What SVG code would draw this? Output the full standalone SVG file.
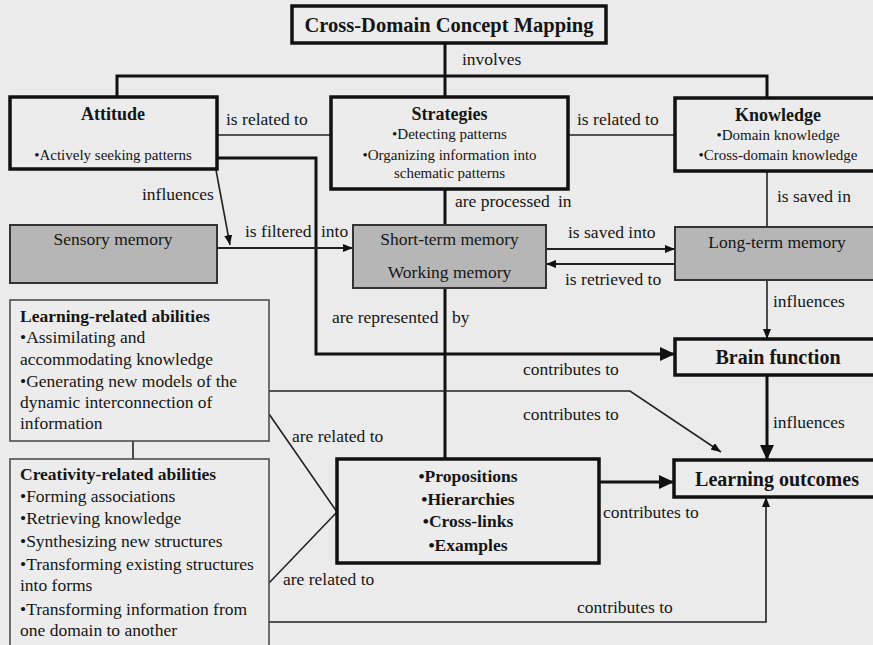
<svg xmlns="http://www.w3.org/2000/svg" width="873" height="645" viewBox="0 0 873 645">
<defs>
<style>
.t{font-family:"Liberation Serif","Times New Roman",serif;fill:#151515}
.lbl{font-size:17.5px}
.hd{font-size:18px;font-weight:bold}
.it{font-size:15px}
.big{font-size:20px;font-weight:bold}
.lt{font-size:17.5px}
.bxk{fill:#ececec;stroke:#111;stroke-width:3.5}
.bxg{fill:#b6b6b6;stroke:#333;stroke-width:2}
.bxt{fill:#ececec;stroke:#444;stroke-width:1.5}
.ck{fill:none;stroke:#111;stroke-width:3}
.cn{fill:none;stroke:#222;stroke-width:1.6}
.cm{fill:none;stroke:#222;stroke-width:2}
</style>
<marker id="ah" viewBox="0 0 10 8" refX="10" refY="4" markerWidth="10" markerHeight="8" markerUnits="userSpaceOnUse" orient="auto"><path d="M0,0 L10,4 L0,8 z" fill="#111"/></marker>
<marker id="ahk" viewBox="0 0 15 14" refX="15" refY="7" markerWidth="15" markerHeight="14" markerUnits="userSpaceOnUse" orient="auto"><path d="M0,0 L15,7 L0,14 z" fill="#111"/></marker>
</defs>
<rect x="0" y="0" width="873" height="645" fill="#ebebeb"/>

<g id="connectors">
<path class="ck" d="M445,43 V97"/>
<path class="ck" d="M117,97 V76 H767 V98"/>
<path class="cn" d="M217,135 H331"/>
<path class="cn" d="M568,135 H675"/>
<path class="ck" d="M217,158 H316 V354 H675" marker-end="url(#ahk)"/>
<path class="ck" d="M445,189 V225"/>
<path class="cn" d="M216,170 L230,245" marker-end="url(#ah)"/>
<path class="cm" d="M217,248 H353" marker-end="url(#ah)"/>
<path class="cn" d="M767,171 V227"/>
<path class="cm" d="M546,249 H675" marker-end="url(#ah)"/>
<path class="cm" d="M675,264 H546" marker-end="url(#ah)"/>
<path class="cn" d="M767,280 V339" marker-end="url(#ah)"/>
<path class="ck" d="M767,375 V460" marker-end="url(#ahk)"/>
<path class="ck" d="M445,288 V459"/>
<path class="cn" d="M269,391 H630 L721,452" marker-end="url(#ah)"/>
<path class="cn" d="M269,414 L337,512 L269,583"/>
<path class="cn" d="M133,441 V459"/>
<path class="ck" d="M599,482 H674" marker-end="url(#ahk)"/>
<path class="cn" d="M269,622 H766 V497" marker-end="url(#ah)"/>
</g>

<g id="labels">
<text class="t lbl" x="462" y="65">involves</text>
<text class="t lbl" x="226" y="125">is related to</text>
<text class="t lbl" x="577" y="125">is related to</text>
<text class="t lbl" x="142" y="200">influences</text>
<text class="t lbl" x="245" y="237">is filtered</text>
<text class="t lbl" x="321" y="237">into</text>
<text class="t lbl" x="455" y="207">are processed</text>
<text class="t lbl" x="558" y="207">in</text>
<text class="t lbl" x="777" y="202">is saved in</text>
<text class="t lbl" x="568" y="238">is saved into</text>
<text class="t lbl" x="565" y="285">is retrieved to</text>
<text class="t lbl" x="773" y="307">influences</text>
<text class="t lbl" x="332" y="323">are represented</text>
<text class="t lbl" x="452" y="323">by</text>
<text class="t lbl" x="523" y="375">contributes to</text>
<text class="t lbl" x="523" y="420">contributes to</text>
<text class="t lbl" x="773" y="428">influences</text>
<text class="t lbl" x="292" y="442">are related to</text>
<text class="t lbl" x="603" y="518">contributes to</text>
<text class="t lbl" x="283" y="585">are related to</text>
<text class="t lbl" x="577" y="613">contributes to</text>
</g>

<g id="title">
<rect class="bxk" x="292" y="6" width="314" height="37"/>
<text class="t" x="449" y="32" text-anchor="middle" font-size="20.5" font-weight="bold">Cross-Domain Concept Mapping</text>
</g>

<g id="attitude">
<rect class="bxk" x="10" y="97" width="207" height="72"/>
<text class="t hd" x="113" y="120" text-anchor="middle">Attitude</text>
<text class="t it" x="113" y="160" text-anchor="middle">•Actively seeking patterns</text>
</g>

<g id="strategies">
<rect class="bxk" x="331" y="97" width="237" height="92"/>
<text class="t hd" x="449.5" y="120" text-anchor="middle">Strategies</text>
<text class="t it" x="449.5" y="139" text-anchor="middle">•Detecting patterns</text>
<text class="t it" x="449.5" y="160" text-anchor="middle">•Organizing information into</text>
<text class="t it" x="449.5" y="178" text-anchor="middle">schematic patterns</text>
</g>

<g id="knowledge">
<rect class="bxk" x="675" y="98" width="210" height="73"/>
<text class="t hd" x="778" y="121" text-anchor="middle">Knowledge</text>
<text class="t it" x="778" y="140" text-anchor="middle">•Domain knowledge</text>
<text class="t it" x="778" y="160" text-anchor="middle">•Cross-domain knowledge</text>
</g>

<g id="sensory">
<rect class="bxg" x="10" y="225" width="207" height="58"/>
<text class="t lt" x="113" y="245" text-anchor="middle">Sensory memory</text>
</g>

<g id="shortterm">
<rect class="bxg" x="353" y="225" width="193" height="63"/>
<text class="t lt" x="449.5" y="245" text-anchor="middle">Short-term memory</text>
<text class="t lt" x="449.5" y="278" text-anchor="middle">Working memory</text>
</g>

<g id="longterm">
<rect class="bxg" x="675" y="227" width="210" height="53"/>
<text class="t lt" x="777" y="248" text-anchor="middle">Long-term memory</text>
</g>

<g id="brain">
<rect class="bxk" x="675" y="339" width="210" height="36"/>
<text class="t big" x="778" y="364" text-anchor="middle">Brain function</text>
</g>

<g id="learningrel">
<rect class="bxt" x="10" y="300" width="259" height="141"/>
<text class="t lt" x="20" y="322" font-weight="bold">Learning-related abilities</text>
<text class="t lt" x="20" y="343">•Assimilating and</text>
<text class="t lt" x="20" y="365">accommodating knowledge</text>
<text class="t lt" x="20" y="387">•Generating new models of the</text>
<text class="t lt" x="20" y="408">dynamic interconnection of</text>
<text class="t lt" x="20" y="429">information</text>
</g>

<g id="creativity">
<rect class="bxt" x="10" y="459" width="259" height="200"/>
<text class="t lt" x="20" y="480" font-weight="bold">Creativity-related abilities</text>
<text class="t lt" x="20" y="502">•Forming associations</text>
<text class="t lt" x="20" y="524">•Retrieving knowledge</text>
<text class="t lt" x="20" y="547">•Synthesizing new structures</text>
<text class="t lt" x="20" y="570">•Transforming existing structures</text>
<text class="t lt" x="20" y="591">into forms</text>
<text class="t lt" x="20" y="615">•Transforming information from</text>
<text class="t lt" x="20" y="636">one domain to another</text>
</g>

<g id="propositions">
<rect class="bxk" x="337" y="459" width="262" height="104"/>
<text class="t lt" x="468" y="482" text-anchor="middle" font-weight="bold">•Propositions</text>
<text class="t lt" x="468" y="505" text-anchor="middle" font-weight="bold">•Hierarchies</text>
<text class="t lt" x="468" y="527" text-anchor="middle" font-weight="bold">•Cross-links</text>
<text class="t lt" x="468" y="551" text-anchor="middle" font-weight="bold">•Examples</text>
</g>

<g id="learningout">
<rect class="bxk" x="674" y="460" width="211" height="37"/>
<text class="t big" x="777" y="486" text-anchor="middle">Learning outcomes</text>
</g>
</svg>
